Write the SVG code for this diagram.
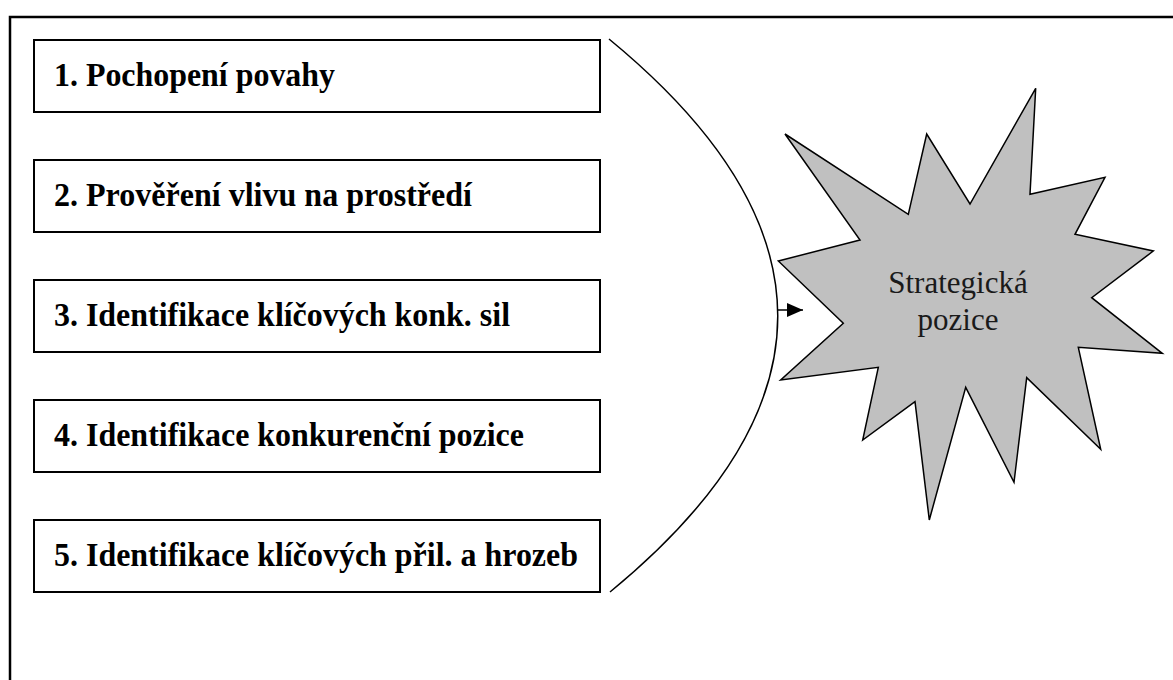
<svg xmlns="http://www.w3.org/2000/svg" width="1173" height="680" viewBox="0 0 1173 680">
  <defs>
    <marker id="arrowhead" markerWidth="16" markerHeight="14" refX="16" refY="7" orient="auto" markerUnits="userSpaceOnUse">
      <path d="M0,0 L16,7 L0,14 Z" fill="#000"/>
    </marker>
    <style>
      .frame { fill: none; stroke: #000; stroke-width: 2.5; }
      .step rect { fill: #fff; stroke: #000; stroke-width: 2; }
      .step text { font-family: "Liberation Serif", "Times New Roman", serif; font-weight: bold; font-size: 34px; fill: #000; }
      .bracket { fill: none; stroke: #000; stroke-width: 1.5; }
      .star { fill: #c0c0c0; stroke: #000; stroke-width: 1.5; stroke-linejoin: miter; }
      .star-label { font-family: "Liberation Serif", "Times New Roman", serif; font-size: 31px; fill: #1a1a1a; text-anchor: middle; }
    </style>
  </defs>

  <rect width="1173" height="680" fill="#fff"/>

  <!-- page frame, continues past the right and bottom edges -->
  <rect class="frame" x="10" y="17" width="1200" height="700"/>

  <g id="step1" class="step">
    <rect x="34" y="40" width="566" height="72"/>
    <text x="54" y="86" textLength="281" lengthAdjust="spacingAndGlyphs">1. Pochopení povahy</text>
  </g>
  <g id="step2" class="step">
    <rect x="34" y="160" width="566" height="72"/>
    <text x="54" y="206" textLength="418" lengthAdjust="spacingAndGlyphs">2. Prověření vlivu na prostředí</text>
  </g>
  <g id="step3" class="step">
    <rect x="34" y="280" width="566" height="72"/>
    <text x="54" y="326" textLength="456" lengthAdjust="spacingAndGlyphs">3. Identifikace klíčových konk. sil</text>
  </g>
  <g id="step4" class="step">
    <rect x="34" y="400" width="566" height="72"/>
    <text x="54" y="446" textLength="470" lengthAdjust="spacingAndGlyphs">4. Identifikace konkurenční pozice</text>
  </g>
  <g id="step5" class="step">
    <rect x="34" y="520" width="566" height="72"/>
    <text x="54" y="566" textLength="524" lengthAdjust="spacingAndGlyphs">5. Identifikace klíčových přil. a hrozeb</text>
  </g>

  <g id="connectors">
    <path class="bracket" d="M609,39 Q946,316 610,592"/>
    <line x1="777" y1="310" x2="803" y2="310" stroke="#000" stroke-width="1.5" marker-end="url(#arrowhead)"/>
  </g>

  <g id="strategic-position">
    <polygon class="star" points="778.3,261 860,240 785,134 908.3,214.3 926.7,134 970,204 1035.7,88.3 1030,194.3 1105,177.3 1075,234.3 1153.3,251 1091.7,297.7 1162.3,353.3 1078.3,347.3 1100.7,449.3 1026.7,377.7 1014,482.3 965.7,387.3 929.3,520 915,401.7 862.7,440 878.3,367.3 780.7,380 843.3,323.3"/>
    <text class="star-label" x="958" y="293">Strategická</text>
    <text class="star-label" x="958" y="330">pozice</text>
  </g>
</svg>
